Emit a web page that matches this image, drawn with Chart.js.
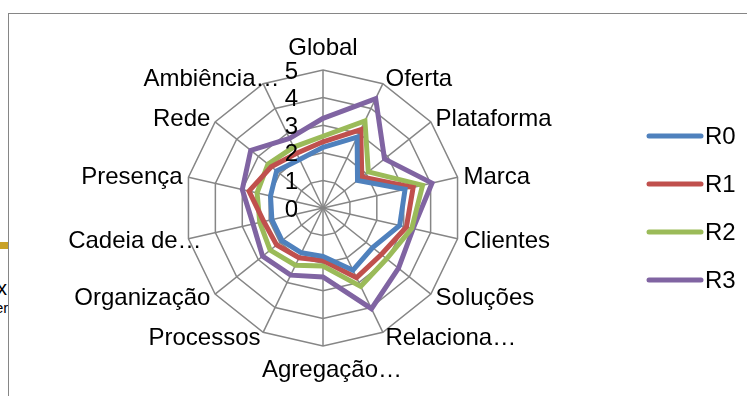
<!DOCTYPE html>
<html>
<head>
<meta charset="utf-8">
<script src="https://cdn.jsdelivr.net/npm/chart.js@4.4.0/dist/chart.umd.min.js"></script>
<style>
  html, body { margin: 0; padding: 0; background: #fff; width: 747px; height: 396px; overflow: hidden; position: relative; font-family: "Liberation Sans", sans-serif; }
  #frame { position: absolute; left: 8px; top: 13px; width: 800px; height: 450px; border: 1.5px solid #868686; }
  #bar { position: absolute; left: 0; top: 242px; width: 8px; height: 7px; background: #c9a227; }
  .cut { position: absolute; color: #000; white-space: nowrap; }
  #wrap { position: absolute; left: 0; top: 0; width: 747px; height: 396px; }
</style>
</head>
<body>
<div id="bar"></div>
<span class="cut" style="left:-3px;top:277px;font-size:20px">x</span>
<span class="cut" style="left:-5px;top:299px;font-size:15px">er</span>
<div id="frame"></div>
<div id="wrap"><canvas id="radar" width="747" height="396"></canvas></div>

<script>
// eixos do radar
const labels = ["Global", "Oferta", "Plataforma", "Marca", "Clientes", "Soluções", "Relaciona…",
  "Agregação…", "Processos", "Organização", "Cadeia de…", "Presença", "Rede", "Ambiência…"];

// valores
const r0 = [2.2, 2.85, 1.6, 3.05, 2.85, 2.3, 2.5, 1.75, 1.8, 1.9, 1.9, 1.95, 2.15, 1.95];
const r1 = [2.4, 3.15, 1.8, 3.35, 3.1, 2.7, 2.8, 1.9, 2.0, 2.15, 2.2, 2.75, 2.4, 2.2];
const r2 = [2.6, 3.5, 2.1, 3.7, 3.3, 2.95, 3.15, 2.1, 2.3, 2.45, 2.35, 2.45, 2.55, 2.45];
const r3 = [3.25, 4.4, 2.85, 4.05, 3.35, 3.5, 4.05, 2.5, 2.7, 2.8, 2.6, 3.0, 3.35, 2.8];

const seriesNames = ["R0", "R1", "R2", "R3"];
const seriesColors = ["#4F81BD", "#C0504D", "#9BBB59", "#8064A2"];
const tickValues = [0, 1, 2, 3, 4, 5];

const FONT = '24px "Liberation Sans", sans-serif';

// textos desenhados à moda do Excel (ticks ao lado, rótulos, legenda)
const excelText = {
  id: "excelText",
  afterDraw(chart) {
    const ctx = chart.ctx;
    const s = chart.scales.r;
    ctx.save();
    ctx.fillStyle = "#000";
    ctx.font = FONT;

    // ticks
    ctx.textAlign = "right";
    ctx.textBaseline = "middle";
    tickValues.forEach((v) => {
      const p = s.getPointPositionForValue(0, v);
      ctx.fillText(String(v), p.x - 25, p.y + 2);
    });

    // rótulos dos eixos
    labels.forEach((lab, i) => {
      const p = s.getPointPosition(i, s.drawingArea + 6);
      const dx = p.x - s.xCenter;
      let nudge = 0;
      if (Math.abs(dx) < 1) {
        ctx.textAlign = "center";
        if (p.y < s.yCenter) {
          ctx.textBaseline = "alphabetic";
          const q = s.getPointPosition(i, s.drawingArea + 15);
          ctx.fillText(lab, q.x, q.y);
        } else {
          ctx.textBaseline = "top";
          const q = s.getPointPosition(i, s.drawingArea + 12);
          if (lab.endsWith("…")) nudge = 9;
          ctx.fillText(lab, q.x + nudge, q.y);
        }
        return;
      }
      ctx.textBaseline = "middle";
      if (dx > 0) {
        ctx.textAlign = "left";
      } else {
        ctx.textAlign = "right";
        if (lab.endsWith("…")) nudge = 19;
      }
      ctx.fillText(lab, p.x + nudge, p.y + 1);
    });

    // legenda
    seriesNames.forEach((name, i) => {
      const y = 136 + i * 48;
      ctx.strokeStyle = seriesColors[i];
      ctx.lineWidth = 5;
      ctx.lineCap = "round";
      ctx.beginPath();
      ctx.moveTo(649, y);
      ctx.lineTo(701, y);
      ctx.stroke();
      ctx.textAlign = "left";
      ctx.textBaseline = "middle";
      ctx.fillText(name, 705, y + 1);
    });
    ctx.restore();
  }
};

const ctxRadar = document.getElementById("radar");

new Chart(ctxRadar, {
  type: "radar",
  data: {
    labels: labels,
    datasets: [r0, r1, r2, r3].map((vals, i) => ({
      label: seriesNames[i],
      data: vals,
      borderColor: seriesColors[i],
      backgroundColor: "transparent",
      borderWidth: 5,
      pointRadius: 0,
      fill: false,
      tension: 0,
    })),
  },
  options: {
    responsive: false,
    animation: false,
    devicePixelRatio: 1,
    layout: { padding: { left: 184, right: 285, top: 70, bottom: 49 } },
    plugins: {
      legend: { display: false },
      tooltip: { enabled: false },
    },
    scales: {
      r: {
        min: 0,
        max: 5,
        ticks: { display: false, stepSize: 1 },
        grid: { color: "#868686", lineWidth: 1.5, circular: false },
        angleLines: { color: "#868686", lineWidth: 1.5 },
        pointLabels: { display: false },
      },
    },
  },
  plugins: [excelText],
});
</script>
</body>
</html>
